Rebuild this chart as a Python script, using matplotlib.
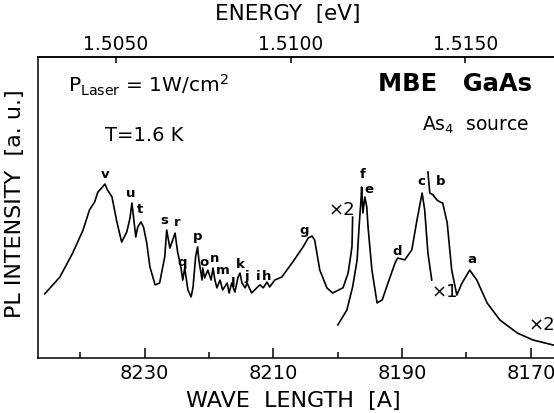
import matplotlib.pyplot as plt
import numpy as np

# x2 segment, long-wavelength side (wavelength in A, intensity in a.u.)
wl_a = [8245.55, 8243.2, 8241.2, 8239.6, 8238.6, 8237.8, 8237.3, 8236.7, 8236.2, 8235.8,
        8235.1, 8234.4, 8233.6, 8232.8, 8232.3, 8232.0, 8231.7, 8231.4, 8231.1, 8230.6,
        8230.2, 8229.7, 8229.2, 8228.4, 8227.7, 8226.9, 8226.6, 8226.1, 8225.3, 8224.9,
        8224.4, 8224.1, 8223.8, 8223.3, 8222.8, 8222.5, 8222.1, 8221.8, 8221.6, 8221.1,
        8221.0, 8220.7, 8220.2, 8219.7, 8219.4, 8219.1, 8218.8, 8218.3, 8217.9, 8217.2,
        8216.9, 8216.5, 8216.0, 8215.5, 8215.2, 8214.9, 8214.4, 8214.1, 8213.4, 8212.6,
        8212.1, 8211.6, 8211.0, 8210.6, 8209.8, 8208.7, 8207.0, 8205.4, 8204.6, 8204.0,
        8203.6, 8202.8, 8201.7, 8200.8, 8199.2, 8198.4, 8197.8, 8197.7]
int_a = [21.3, 26.9, 34.9, 42.5, 49.2, 51.8, 55.1, 56.5, 57.8, 55.8,
         53.5, 45.8, 38.5, 41.9, 46.5, 51.5, 45.8, 40.2, 43.5, 45.2,
         43.5, 38.2, 30.2, 24.3, 24.9, 33.6, 42.5, 36.5, 41.5, 35.2,
         30.2, 25.9, 29.9, 22.6, 20.3, 23.6, 33.6, 36.9, 32.6, 25.9,
         29.9, 26.6, 29.2, 25.9, 29.9, 25.9, 23.3, 25.9, 22.6, 24.9,
         21.6, 24.9, 21.9, 26.9, 28.2, 24.9, 23.3, 24.9, 21.6, 23.3,
         24.3, 23.3, 25.2, 23.6, 25.9, 26.9, 31.9, 36.9, 39.9, 40.5,
         39.2, 29.2, 23.3, 21.6, 23.3, 28.2, 36.9, 46.8]

# x1 segment (f, e, d, c)
wl_b = [8200.0, 8198.6, 8197.7, 8197.0, 8196.7, 8196.4, 8196.3, 8196.1, 8195.8, 8195.5,
        8195.3, 8194.7, 8193.9, 8193.1, 8192.2, 8191.1, 8190.7, 8189.6, 8188.5, 8187.7,
        8186.9, 8186.5, 8186.0, 8185.4]
int_b = [11.0, 15.9, 23.6, 32.6, 43.5, 52.5, 56.8, 48.2, 53.5, 50.2,
         43.5, 29.2, 18.3, 19.3, 24.9, 31.6, 33.2, 32.6, 35.9, 45.8,
         54.8, 49.2, 34.9, 25.9]

# x2 segment, short-wavelength side (b, a)
wl_c = [8186.0, 8185.7, 8185.2, 8184.6, 8184.1, 8183.7, 8183.0, 8182.3, 8181.5, 8180.7,
        8179.5, 8178.4, 8176.8, 8174.8, 8172.1, 8169.7, 8166.5]
int_c = [61.8, 54.8, 54.2, 52.5, 51.8, 51.5, 44.9, 29.2, 20.9, 24.9,
         29.2, 25.9, 18.3, 12.6, 8.3, 6.0, 4.3]

peak_names = ['v', 'u', 't', 's', 'r', 'q', 'p', 'o', 'n', 'm', 'l', 'k', 'j', 'i', 'h',
              'g', 'f', 'e', 'd', 'c', 'b', 'a']
peak_wl = [8236.2, 8232.2, 8230.8, 8227.0, 8225.0, 8224.2, 8221.8, 8220.8, 8219.1, 8217.9,
           8216.2, 8215.2, 8214.1, 8212.3, 8211.0, 8205.3, 8196.1, 8195.2, 8190.8, 8187.1,
           8184.0, 8179.1]
peak_int = [60.8, 54.8, 49.2, 45.8, 44.9, 31.6, 40.2, 31.6, 33.2, 29.0,
            24.6, 31.2, 27.2, 27.2, 27.2, 42.5, 60.8, 56.1, 35.5, 58.5,
            58.5, 32.6]

scale_names = ['×2', '×1', '×2']
scale_wl = [8201.5, 8185.4, 8170.4]
scale_int = [49.2, 21.9, 11.0]

wl_major = [8230, 8210, 8190, 8170]
wl_minor = [8240, 8220, 8200, 8180]
energy_ticks = [1.505, 1.510, 1.515]
energy_labels = ['1.5050', '1.5100', '1.5150']
hc = 12393.0

fig = plt.figure(figsize=(5.54, 4.13), dpi=100)
ax = fig.add_axes([0.0686, 0.1332, 0.9314, 0.7288])

ax.plot(wl_a, int_a, color='black', lw=1.2)
ax.plot(wl_b, int_b, color='black', lw=1.2)
ax.plot(wl_c, int_c, color='black', lw=1.2)

for name, x, y in zip(peak_names, peak_wl, peak_int):
    ax.text(x, y, name, ha='center', va='center', fontsize=9.5, fontweight='bold')
for name, x, y in zip(scale_names, scale_wl, scale_int):
    ax.text(x, y, name, ha='left', va='center', fontsize=13)

ax.set_xlim(8246.6, 8166.4)
ax.set_ylim(0, 100)
ax.set_xticks(wl_major)
ax.set_xticks(wl_minor, minor=True)
ax.set_xticklabels([str(w) for w in wl_major], fontsize=14)
ax.tick_params(axis='x', which='major', direction='in', length=7, width=1.1, pad=4)
ax.tick_params(axis='x', which='minor', direction='in', length=4.5, width=1.1)
ax.set_yticks([])
ax.spines['right'].set_visible(False)
for s in ['left', 'bottom', 'top']:
    ax.spines[s].set_linewidth(1.1)

sec = ax.secondary_xaxis('top', functions=(lambda l: hc / l, lambda e: hc / e))
sec.set_xticks(energy_ticks)
sec.set_xticklabels(energy_labels, fontsize=13.5)
sec.tick_params(direction='in', length=4, width=1.1, pad=2)
sec.spines['top'].set_linewidth(1.1)

ax.text(0.058, 0.907, r'$\mathrm{P}_{\mathrm{Laser}}$ = 1W/cm$^2$', transform=ax.transAxes,
        fontsize=14.5, ha='left', va='center')
ax.text(0.130, 0.738, 'T=1.6 K', transform=ax.transAxes, fontsize=14, ha='left', va='center')
ax.text(0.957, 0.910, 'MBE   GaAs', transform=ax.transAxes, fontsize=17.5, fontweight='bold',
        ha='right', va='center')
ax.text(0.953, 0.774, r'As$_4$  source', transform=ax.transAxes, fontsize=13.5,
        ha='right', va='center')

fig.text(0.52, 0.966, 'ENERGY  [eV]', fontsize=15.5, ha='center', va='center')
fig.text(0.53, 0.030, 'WAVE  LENGTH  [A]', fontsize=16, ha='center', va='center')
fig.text(0.027, 0.508, 'PL INTENSITY  [a. u.]', fontsize=16, ha='center', va='center',
         rotation=90)

fig.savefig('out.png', dpi=100)
